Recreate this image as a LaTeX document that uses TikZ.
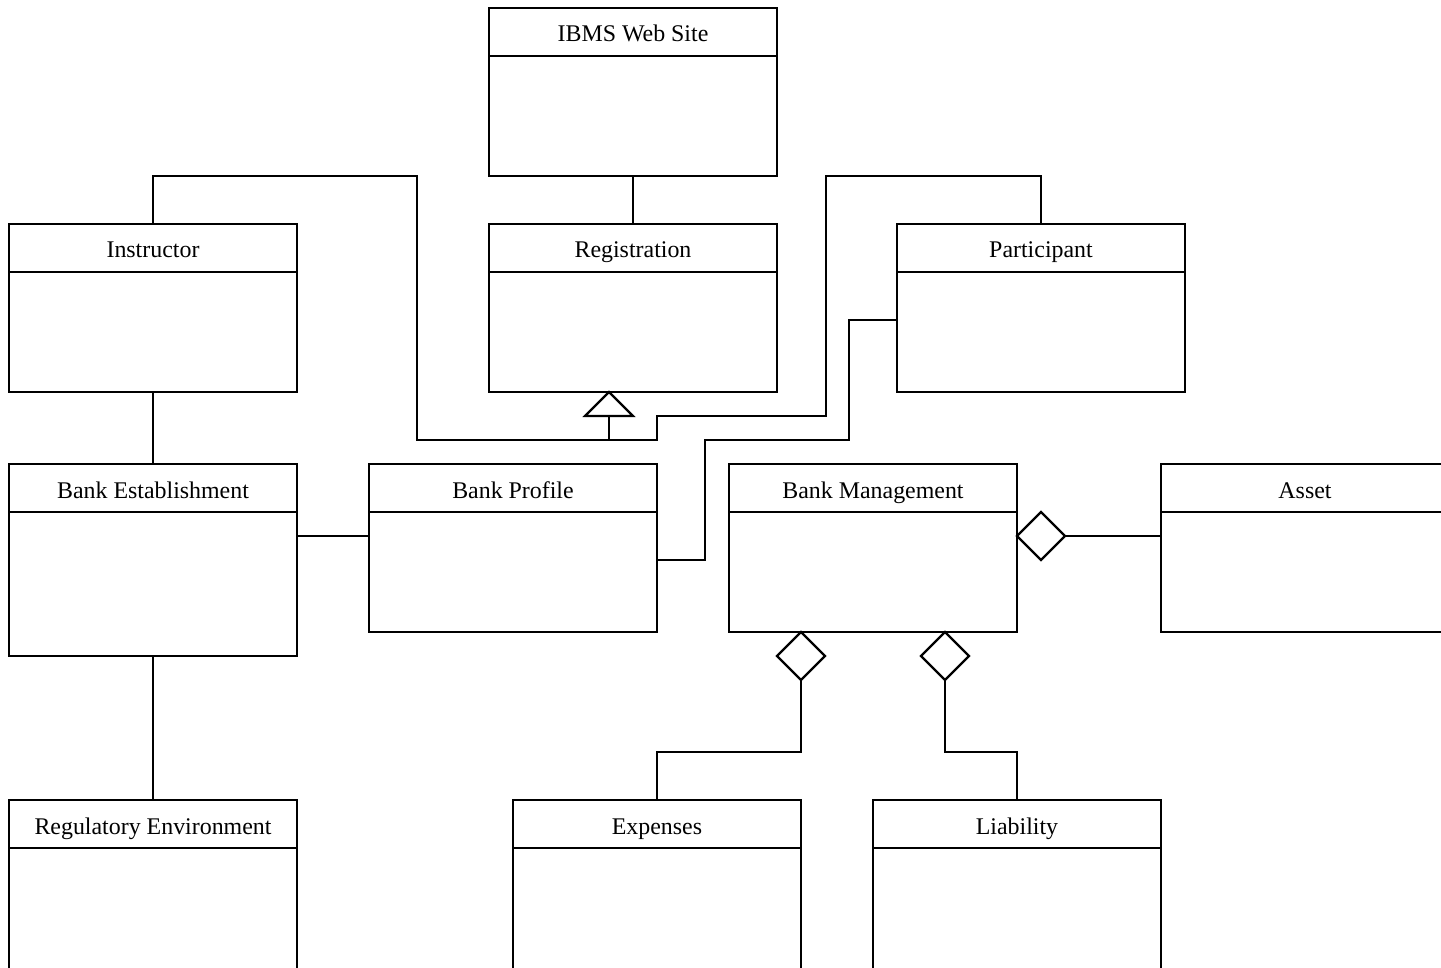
\documentclass[tikz,border=0pt]{standalone}
\usepackage{fontspec}
\setmainfont{Liberation Serif}

% one UML class: name, left x, top y, width, height, title
\newcommand\umlclass[6]{%
  \node[classbox, minimum width=#4pt, minimum height=#5pt] (#1) at (#2,#3) {};
  \draw[link] ([yshift=-48pt]#1.north west) -- ([yshift=-48pt]#1.north east);
  \node[classtitle] (#1-t) at ([yshift=-34pt]#1.north) {#6};
}

\begin{document}
\begin{tikzpicture}[x=1pt, y=-1pt,
  classbox/.style={draw, line width=2.2pt, anchor=north west, inner sep=0pt, outer sep=0pt},
  classtitle/.style={font=\fontsize{23.9}{28}\selectfont, inner sep=0pt, anchor=base},
  link/.style={draw, line width=2.2pt, line join=miter},
  hollow/.style={draw, fill=white, line width=2.2pt, line join=miter}]

\useasboundingbox (0,0) rectangle (1441,968);
\clip (0,0) rectangle (1441,968);

% classes
\umlclass{web}{489}{8}{288}{168}{IBMS Web Site}
\umlclass{ins}{9}{224}{288}{168}{Instructor}
\umlclass{reg}{489}{224}{288}{168}{Registration}
\umlclass{par}{897}{224}{288}{168}{Participant}
\umlclass{est}{9}{464}{288}{192}{Bank Establishment}
\umlclass{prof}{369}{464}{288}{168}{Bank Profile}
\umlclass{mgmt}{729}{464}{288}{168}{Bank Management}
\umlclass{asset}{1161}{464}{288}{168}{Asset}
\umlclass{regenv}{9}{800}{288}{200}{Regulatory Environment}
\umlclass{exp}{513}{800}{288}{200}{Expenses}
\umlclass{liab}{873}{800}{288}{200}{Liability}

% plain associations
\draw[link] (web.south) -- (reg.north);
\draw[link] (ins.south) -- (est.north);
\draw[link] (est.south) -- (regenv.north);
\draw[link] ([yshift=-72pt]est.north east) -- ([yshift=-72pt]prof.north west);

% generalization towards Registration
\coordinate (gen) at ([xshift=-24pt]reg.south);
\draw[link] (ins.north) -- ++(0,-48) -| (417,440) -- (657,440) -- (657,416)
  -- (826,416) -- (826,176) -| (par.north);
\draw[link] ([yshift=-24pt]gen) -- ++(0,24);
\draw[hollow] (gen) -- ++(-24,24) -- ++(48,0) -- cycle;

% Participant to Bank Profile
\draw[link] ([yshift=-96pt]par.north west) -- (849,320) -- (849,440) -- (705,440)
  -- (705,560) -- ([yshift=-96pt]prof.north east);

% aggregations of Bank Management
\coordinate (aggA) at ([yshift=-72pt]mgmt.north east);
\draw[link] ([xshift=48pt]aggA) -- ([yshift=-72pt]asset.north west);
\draw[hollow] (aggA) -- ++(24,-24) -- ++(24,24) -- ++(-24,24) -- cycle;

\coordinate (aggE) at ([xshift=72pt]mgmt.south west);
\draw[link] ([yshift=-48pt]aggE) -- ++(0,72) -| (exp.north);
\draw[hollow] (aggE) -- ++(24,24) -- ++(-24,24) -- ++(-24,-24) -- cycle;

\coordinate (aggL) at ([xshift=216pt]mgmt.south west);
\draw[link] ([yshift=-48pt]aggL) -- ++(0,72) -| (liab.north);
\draw[hollow] (aggL) -- ++(24,24) -- ++(-24,24) -- ++(-24,-24) -- cycle;

\end{tikzpicture}
\end{document}
